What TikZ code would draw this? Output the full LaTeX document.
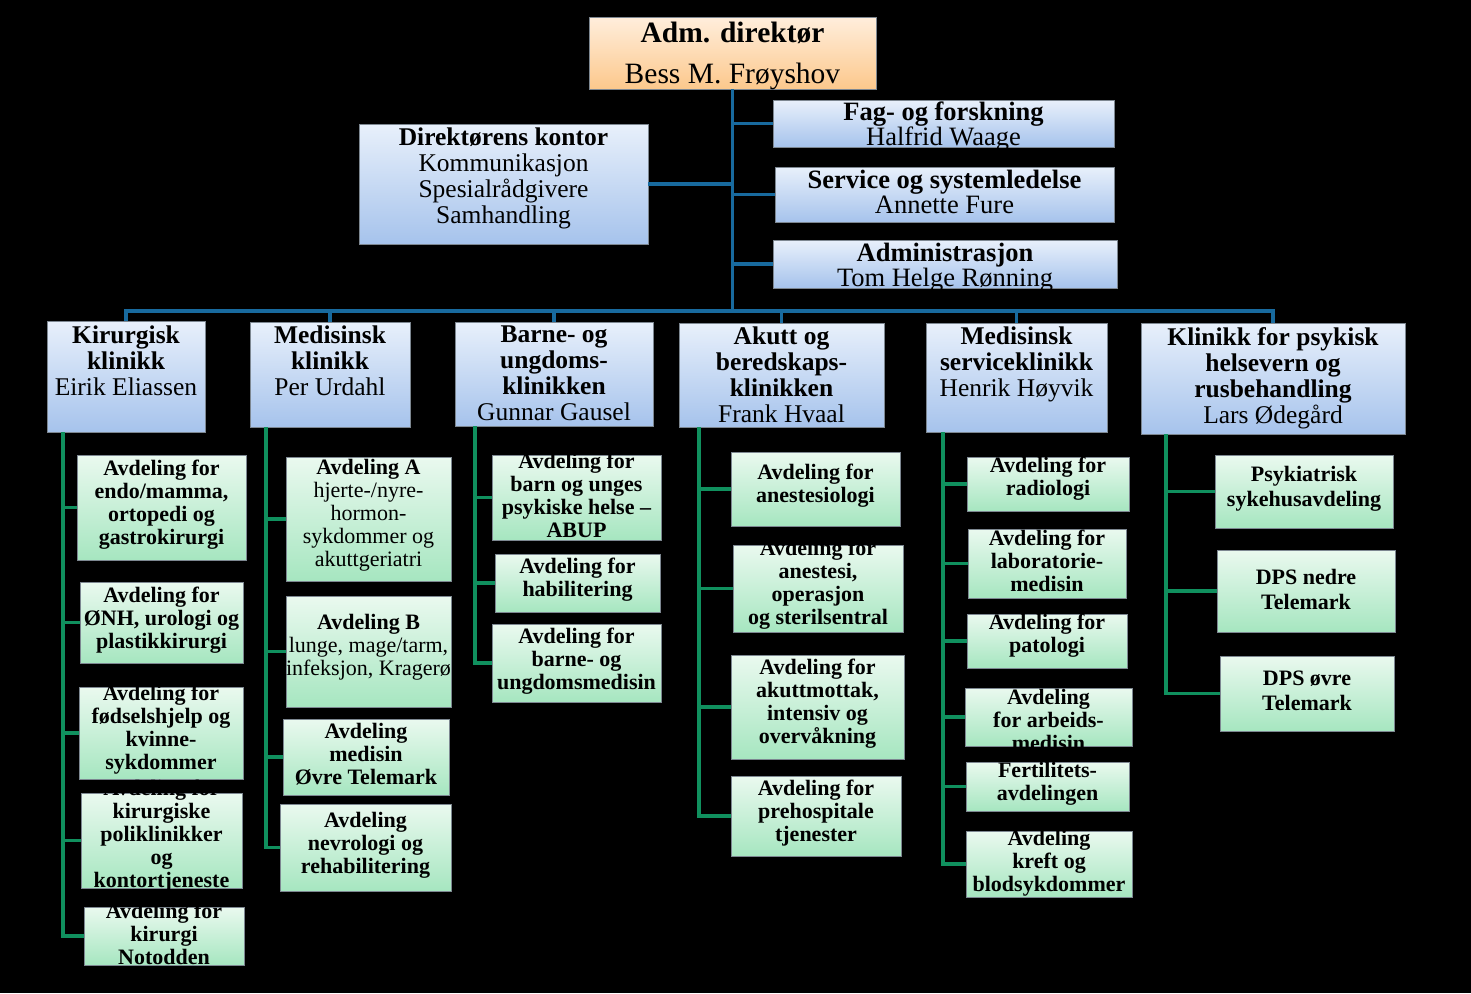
\documentclass[tikz,border=0pt]{standalone}
\usepackage{fontspec}
\setmainfont{Liberation Serif}
\definecolor{bline}{RGB}{24,106,158}
\definecolor{gline}{RGB}{16,144,94}
\definecolor{btop}{RGB}{232,240,251}
\definecolor{bbot}{RGB}{166,195,236}
\definecolor{gtop}{RGB}{234,249,239}
\definecolor{gbot}{RGB}{166,230,192}
\definecolor{otop}{RGB}{255,238,220}
\definecolor{obot}{RGB}{252,200,140}
\definecolor{edge}{RGB}{125,135,145}
\tikzset{
  basebox/.style={rectangle, draw=edge, line width=1pt, inner sep=0pt, outer sep=0pt},
  obox/.style={basebox, top color=otop, bottom color=obot},
  bbox/.style={basebox, top color=btop, bottom color=bbot},
  gbox/.style={basebox, top color=gtop, bottom color=gbot},
  toptext/.style={inner sep=0pt, align=center, text=black, font=\fontsize{29.5}{41}\selectfont},
  smalltext/.style={inner sep=0pt, align=center, text=black, font=\fontsize{26.5}{25}\selectfont},
  dirtext/.style={inner sep=0pt, align=center, text=black, font=\fontsize{25.5}{26}\selectfont},
  klintext/.style={inner sep=0pt, align=center, text=black, font=\fontsize{25.5}{26}\selectfont},
  avdtext/.style={inner sep=0pt, align=center, text=black, font=\fontsize{22}{23}\selectfont\bfseries},
  psytext/.style={inner sep=0pt, align=center, text=black, font=\fontsize{22}{25}\selectfont\bfseries},
  bl/.style={draw=bline, line width=3.5pt, line join=miter},
  gl/.style={draw=gline, line width=3.5pt, line join=miter},
}
% #1 name, #2 box style, #3 x1, #4 y1, #5 x2, #6 y2, #7 text style, #8 text centre y, #9 text
\newcommand\orgbox[9]{%
  \node[#2, minimum width={(#5-#3)*1pt}, minimum height={(#6-#4)*1pt}] (#1) at ({(#3+#5)/2},{(#4+#6)/2}) {};
  \node[#7] (#1-t) at ({(#3+#5)/2},#8) {#9};
}
\begin{document}
\begin{tikzpicture}[x=1pt, y=-1pt]
\fill[black] (0,0) rectangle (1471,993);
\useasboundingbox (0,0) rectangle (1471,993);

% top level
\orgbox{top}{obox}{589}{17}{876}{89}{toptext}{56}{\textbf{Adm. direktør}\\Bess M. Frøyshov}
\orgbox{dir}{bbox}{359}{124}{648}{244}{dirtext}{178}{\textbf{Direktørens kontor}\\Kommunikasjon\\Spesialrådgivere\\Samhandling}
\orgbox{fag}{bbox}{773}{100}{1114}{147}{smalltext}{127}{\textbf{Fag- og forskning}\\Halfrid Waage}
\orgbox{srv}{bbox}{775}{167}{1114}{222}{smalltext}{192}{\textbf{Service og systemledelse}\\Annette Fure}
\orgbox{adm}{bbox}{773}{240}{1117}{288}{smalltext}{268}{\textbf{Administrasjon}\\Tom Helge Rønning}

% clinics
\orgbox{k1}{bbox}{47}{321}{205}{432}{klintext}{361}{\textbf{Kirurgisk}\\\textbf{klinikk}\\Eirik Eliassen}
\orgbox{k2}{bbox}{250}{322}{410}{427}{klintext}{361}{\textbf{Medisinsk}\\\textbf{klinikk}\\Per Urdahl}
\orgbox{k3}{bbox}{455}{322}{653}{426}{klintext}{373}{\textbf{Barne- og}\\\textbf{ungdoms-}\\\textbf{klinikken}\\Gunnar Gausel}
\orgbox{k4}{bbox}{679}{323}{884}{427}{klintext}{375}{\textbf{Akutt og}\\\textbf{beredskaps-}\\\textbf{klinikken}\\Frank Hvaal}
\orgbox{k5}{bbox}{926}{323}{1107}{432}{klintext}{364}{\textbf{Medisinsk}\\\textbf{serviceklinikk}\\Henrik Høyvik}
\orgbox{k6}{bbox}{1141}{323}{1405}{434}{klintext}{378}{\textbf{Klinikk for psykisk}\\\textbf{helsevern og}\\\textbf{rusbehandling}\\Lars Ødegård}

% Kirurgisk
\orgbox{c11}{gbox}{77}{455}{246}{560}{avdtext}{505}{Avdeling for\\endo/mamma,\\ortopedi og\\gastrokirurgi}
\orgbox{c12}{gbox}{80}{582}{243}{663}{avdtext}{620}{Avdeling for\\ØNH, urologi og\\plastikkirurgi}
\orgbox{c13}{gbox}{79}{687}{243}{779}{avdtext}{730}{Avdeling for\\fødselshjelp og\\kvinne-\\sykdommer}
\orgbox{c14}{gbox}{81}{793}{242}{888}{avdtext}{836}{Avdeling for\\kirurgiske\\poliklinikker\\og\\kontortjeneste}
\orgbox{c15}{gbox}{84}{907}{244}{965}{avdtext}{934}{Avdeling for\\kirurgi\\Notodden}
% Medisinsk
\orgbox{c21}{gbox}{286}{457}{451}{581}{avdtext}{515}{Avdeling A\\\textmd{hjerte-/nyre-}\\\textmd{hormon-}\\\textmd{sykdommer og}\\\textmd{akuttgeriatri}}
\orgbox{c22}{gbox}{286}{596}{451}{707}{avdtext}{647}{Avdeling B\\\textmd{lunge, mage/tarm,}\\\textmd{infeksjon, Kragerø}}
\orgbox{c23}{gbox}{283}{719}{449}{795}{avdtext}{754}{Avdeling\\medisin\\Øvre Telemark}
\orgbox{c24}{gbox}{280}{804}{451}{891}{avdtext}{845}{Avdeling\\nevrologi og\\rehabilitering}
% Barne
\orgbox{c31}{gbox}{492}{455}{661}{540}{avdtext}{495}{Avdeling for\\barn og unges\\psykiske helse –\\ABUP}
\orgbox{c32}{gbox}{495}{554}{660}{612}{avdtext}{580}{Avdeling for\\habilitering}
\orgbox{c33}{gbox}{492}{624}{661}{702}{avdtext}{661}{Avdeling for\\barne- og\\ungdomsmedisin}
% Akutt
\orgbox{c41}{gbox}{731}{452}{900}{526}{avdtext}{486}{Avdeling for\\anestesiologi}
\orgbox{c42}{gbox}{733}{545}{903}{632}{avdtext}{585}{Avdeling for\\anestesi,\\operasjon\\og sterilsentral}
\orgbox{c43}{gbox}{731}{655}{904}{759}{avdtext}{704}{Avdeling for\\akuttmottak,\\intensiv og\\overvåkning}
\orgbox{c44}{gbox}{731}{776}{901}{856}{avdtext}{813}{Avdeling for\\prehospitale\\tjenester}
% Medisinsk service
\orgbox{c51}{gbox}{967}{457}{1129}{511}{avdtext}{479}{Avdeling for\\radiologi}
\orgbox{c52}{gbox}{968}{529}{1126}{598}{avdtext}{561}{Avdeling for\\laboratorie-\\medisin}
\orgbox{c53}{gbox}{967}{614}{1127}{668}{avdtext}{636}{Avdeling for\\patologi}
\orgbox{c54}{gbox}{965}{688}{1132}{746}{avdtext}{720}{Avdeling\\for arbeids-\\medisin}
\orgbox{c55}{gbox}{966}{762}{1129}{811}{avdtext}{784}{Fertilitets-\\avdelingen}
\orgbox{c56}{gbox}{966}{831}{1132}{897}{avdtext}{863}{Avdeling\\kreft og\\blodsykdommer}
% Psykisk
\orgbox{c61}{gbox}{1215}{455}{1393}{528}{psytext}{489}{Psykiatrisk\\sykehusavdeling}
\orgbox{c62}{gbox}{1217}{550}{1395}{632}{psytext}{589}{DPS nedre\\Telemark}
\orgbox{c63}{gbox}{1220}{656}{1394}{731}{psytext}{691}{DPS øvre\\Telemark}

% blue connectors
\coordinate (bus) at (732.5,311);
\draw[bl] (top.south) -- (bus);
\draw[bl] (dir.east) -- (top.south |- dir.east);
\draw[bl] (top.south |- fag.west) -- (fag.west);
\draw[bl] (top.south |- srv.west) -- (srv.west);
\draw[bl] (top.south |- adm.west) -- (adm.west);
\draw[bl] (k1.north) -- (k1.north |- bus) -- (k6.north |- bus) -- (k6.north);
\foreach \k in {k2,k3,k4,k5} {\draw[bl] (\k.north |- bus) -- (\k.north);}

% green connectors
\coordinate (g1) at ([xshift=16pt]k1.south west);
\coordinate (g2) at ([xshift=16pt]k2.south west);
\coordinate (g3) at ([xshift=20pt]k3.south west);
\coordinate (g4) at ([xshift=20pt]k4.south west);
\coordinate (g5) at ([xshift=17pt]k5.south west);
\coordinate (g6) at ([xshift=25pt]k6.south west);
\draw[gl] (g1) |- (c15.west);
\foreach \c in {c11,c12,c13,c14} {\draw[gl] (g1 |- \c.west) -- (\c.west);}
\draw[gl] (g2) |- (c24.west);
\foreach \c in {c21,c22,c23} {\draw[gl] (g2 |- \c.west) -- (\c.west);}
\draw[gl] (g3) |- (c33.west);
\foreach \c in {c31,c32} {\draw[gl] (g3 |- \c.west) -- (\c.west);}
\draw[gl] (g4) |- (c44.west);
\foreach \c in {c41,c42,c43} {\draw[gl] (g4 |- \c.west) -- (\c.west);}
\draw[gl] (g5) |- (c56.west);
\foreach \c in {c51,c52,c53,c54,c55} {\draw[gl] (g5 |- \c.west) -- (\c.west);}
\draw[gl] (g6) |- (c63.west);
\foreach \c in {c61,c62} {\draw[gl] (g6 |- \c.west) -- (\c.west);}
\end{tikzpicture}
\end{document}
